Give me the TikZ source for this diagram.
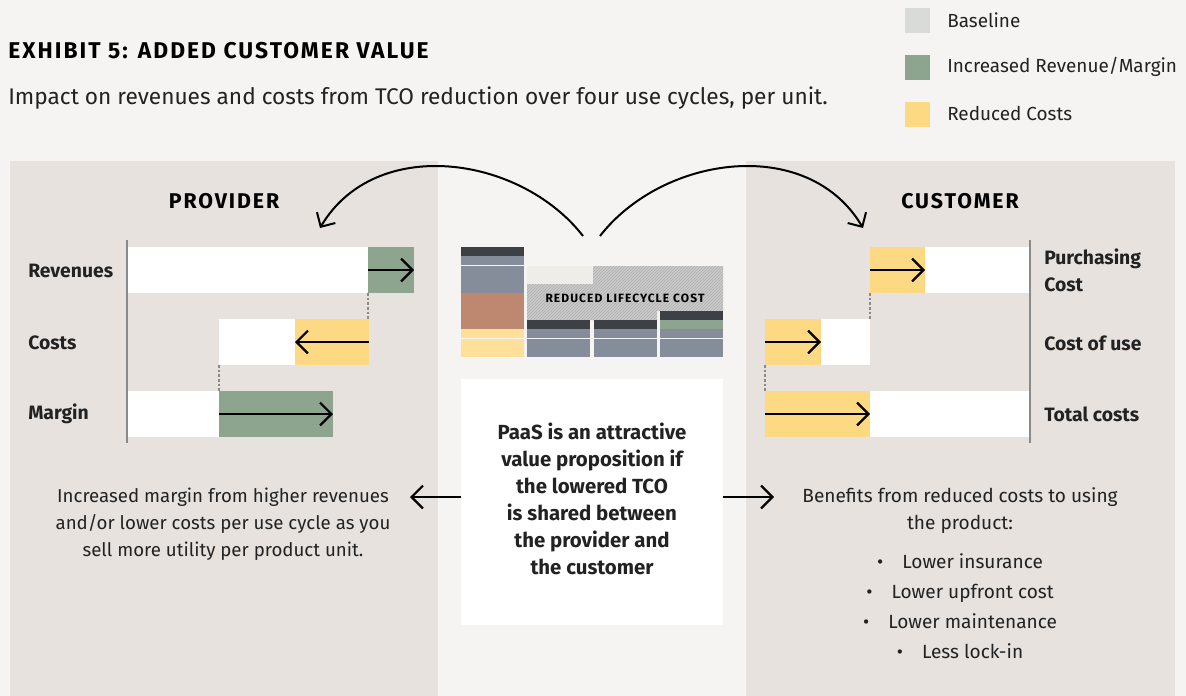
\documentclass[tikz,border=0pt]{standalone}
\usepackage{fontspec}
\setmainfont{Fira Sans}
\newfontfamily\spacedfont[LetterSpace=9]{Fira Sans}
\usetikzlibrary{arrows.meta,fit}
\definecolor{bg}{HTML}{F5F4F2}
\definecolor{panel}{HTML}{E7E2DE}
\definecolor{grn}{HTML}{8DA48E}
\definecolor{yel}{HTML}{FED984}
\definecolor{yel2}{HTML}{FFE09A}
\definecolor{basec}{HTML}{D9DBD9}
\definecolor{dark}{HTML}{3D4146}
\definecolor{slate}{HTML}{858D9B}
\definecolor{terra}{HTML}{BE876F}
\definecolor{lite}{HTML}{EFEDEA}
\definecolor{hatchbg}{HTML}{CACACA}
\definecolor{hatchln}{HTML}{B0B0B0}
\definecolor{axisc}{HTML}{8A8A8A}
\definecolor{txt}{HTML}{222222}
\newcommand\fTitle{\spacedfont\bfseries\fontsize{17.1}{20}\selectfont}
\newcommand\fHead{\spacedfont\bfseries\fontsize{16}{19}\selectfont}
\newcommand\fSub{\fontsize{17}{20}\selectfont}
\newcommand\fLeg{\fontsize{14.2}{17}\selectfont}
\newcommand\fLab{\bfseries\fontsize{14.5}{20.3}\selectfont}
\newcommand\fBox{\bfseries\fontsize{15.3}{20.25}\selectfont}
\newcommand\fDesc{\fontsize{14}{19.9}\selectfont}
\newcommand\fDescR{\fontsize{14.3}{19.9}\selectfont}
\newcommand\fList{\fontsize{14.3}{22.5}\selectfont}
\newcommand\fSmall{\spacedfont\bfseries\fontsize{9}{10}\selectfont}
\begin{document}
\begin{tikzpicture}[x=0.75pt,y=-0.75pt,
  seg/.style={inner sep=0pt,outer sep=0pt,draw=none},
  arr/.style={-{Straight Barb[length=8.5pt,width=17pt]},line width=1.7pt,black},
  curvearr/.style={-{Straight Barb[length=8pt,width=16pt]},line width=1.5pt,black},
  dashcon/.style={axisc,line width=0.9pt,dash pattern=on 2pt off 1.5pt},
  axisline/.style={axisc,line width=1.2pt},
  lab/.style={anchor=west,font=\fLab,text=txt,inner sep=0pt,align=left},
  leg/.style={anchor=west,font=\fLeg,text=txt,inner sep=0pt}]
% background
\fill[bg] (0,0) rectangle (1186,696);
\fill[panel] (10,161) rectangle (438,696);
\fill[panel] (746,161) rectangle (1175,696);
% title
\node[anchor=base west,font=\fTitle,text=black,inner sep=0pt] (title) at (8,58) {EXHIBIT 5: ADDED CUSTOMER VALUE};
\node[anchor=base west,font=\fSub,text=txt,inner sep=0pt] (sub) at (8,104) {Impact on revenues and costs from TCO reduction over four use cycles, per unit.};
% legend
\node[seg,fill=basec,fit={(905,8)(930,33)}] (lg1) {};
\node[seg,fill=grn,fit={(905,55)(930,80)}] (lg2) {};
\node[seg,fill=yel,fit={(905,102)(930,127)}] (lg3) {};
\node[leg] (lt1) at (947,20) {Baseline};
\node[leg] (lt2) at (947,67) {Increased Revenue/Margin};
\node[leg] (lt3) at (947,114) {Reduced Costs};
% panel headings
\node[font=\fHead,inner sep=0pt] (prov) at (224,201) {PROVIDER};
\node[font=\fHead,inner sep=0pt] (cust) at (960,201) {CUSTOMER};
% ---- provider bars
\draw[axisline] (127,240) -- (127,443);
\node[seg,fill=white,fit={(128,247)(368,293)}] (revW) {};
\node[seg,fill=grn,fit={(368,247)(414,293)}] (revG) {};
\node[seg,fill=white,fit={(219,319)(295,365)}] (costW) {};
\node[seg,fill=yel,fit={(295,319)(369,365)}] (costY) {};
\node[seg,fill=white,fit={(128,391)(219,437)}] (marW) {};
\node[seg,fill=grn,fit={(219,391)(333,437)}] (marG) {};
\draw[arr] (revG.west) -- (revG.east);
\draw[arr] (costY.east) -- (costY.west);
\draw[arr] (marG.west) -- (marG.east);
\draw[dashcon] (revW.south east) -- (revW.south east |- costY.north);
\draw[dashcon] (costW.south west) -- (costW.south west |- marG.north);
\node[lab] (lrev) at (28,271) {Revenues};
\node[lab] (lcost) at (28,343) {Costs};
\node[lab] (lmar) at (28,414) {Margin};
% ---- customer bars
\draw[axisline] (1030,240) -- (1030,443);
\node[seg,fill=yel,fit={(870,247)(925,293)}] (purY) {};
\node[seg,fill=white,fit={(925,247)(1029,293)}] (purW) {};
\node[seg,fill=yel,fit={(765,319)(821,365)}] (useY) {};
\node[seg,fill=white,fit={(821,319)(870,365)}] (useW) {};
\node[seg,fill=yel,fit={(765,391)(870,437)}] (totY) {};
\node[seg,fill=white,fit={(870,391)(1029,437)}] (totW) {};
\draw[arr] (purY.west) -- (purY.east);
\draw[arr] (useY.west) -- (useY.east);
\draw[arr] (totY.west) -- (totY.east);
\draw[dashcon] (purY.south west) -- (purY.south west |- useW.north);
\draw[dashcon] (useY.south west) -- (useY.south west |- totY.north);
\node[lab] (lpur) at (1044,270) {Purchasing\\Cost};
\node[lab] (luse) at (1044,343) {Cost of use};
\node[lab] (ltot) at (1044,414) {Total costs};
% ---- center stacked chart
\node[seg,fill=dark,fit={(461,247)(524,256)}] (c1a) {};
\node[seg,fill=slate,fit={(461,256)(524,265)}] (c1b) {};
\node[seg,fill=slate,fit={(461,266)(524,293)}] (c1c) {};
\node[seg,fill=terra,fit={(461,293)(524,329)}] (c1d) {};
\node[seg,fill=yel2,fit={(461,329)(524,338)}] (c1e) {};
\node[seg,fill=yel2,fit={(461,339)(524,357)}] (c1f) {};
\fill[lite] (527,266) rectangle (593,284);
\begin{scope}
  \clip (527,284) -- (593,284) -- (593,266) -- (723,266) -- (723,311) -- (657,311) -- (657,320) -- (527,320) -- cycle;
  \fill[hatchbg] (520,260) rectangle (730,325);
  \foreach \i in {466,469,...,730} \draw[hatchln,line width=0.5pt] (\i,324) -- ++(60,-60);
\end{scope}
\node[font=\fSmall,text=black,inner sep=0pt] (rlc) at (625,298) {REDUCED LIFECYCLE COST};
\node[seg,fill=dark,fit={(527,320)(590,329)}] (c2a) {};
\node[seg,fill=slate,fit={(527,329)(590,338)}] (c2b) {};
\node[seg,fill=slate,fit={(527,339)(590,357)}] (c2c) {};
\node[seg,fill=dark,fit={(594,320)(657,329)}] (c3a) {};
\node[seg,fill=slate,fit={(594,329)(657,338)}] (c3b) {};
\node[seg,fill=slate,fit={(594,339)(657,357)}] (c3c) {};
\node[seg,fill=dark,fit={(660,311)(723,320)}] (c4a) {};
\node[seg,fill=grn,fit={(660,320)(723,329)}] (c4b) {};
\node[seg,fill=slate,fit={(660,329)(723,338)}] (c4c) {};
\node[seg,fill=slate,fit={(660,339)(723,357)}] (c4d) {};
% curved arrows
\coordinate (ls) at (583,236);
\coordinate (le) at (320,228);
\coordinate (rs) at (600,236);
\coordinate (re) at (863,228);
\draw[curvearr] (ls) .. controls (520,155) and (375,135) .. (le);
\draw[curvearr] (rs) .. controls (663,155) and (808,135) .. (re);
% center box
\node[seg,fill=white,fit={(461,379)(723,625)}] (paas) {};
\node[font=\fBox,text=txt,align=center,inner sep=0pt] (paast) at (592,499) {PaaS is an attractive\\value proposition if\\the lowered TCO\\is shared between\\the provider and\\the customer};
\coordinate (la) at (410,497);
\coordinate (ra) at (774,497);
\draw[arr] (paas.west |- la) -- (la);
\draw[arr] (paas.east |- ra) -- (ra);
% descriptions
\node[font=\fDesc,text=txt,align=center,inner sep=0pt,anchor=base] (ldesc) at (223,556) {Increased margin from higher revenues\\and/or lower costs per use cycle as you\\sell more utility per product unit.};
\node[font=\fDescR,text=txt,align=center,inner sep=0pt,anchor=base] (rdesc) at (960,529) {Benefits from reduced costs to using\\the product:};
\node[font=\fList,text=txt,align=center,inner sep=0pt,anchor=base] (rlist) at (960,658) {\textbullet\quad Lower insurance\\\textbullet\quad Lower upfront cost\\\textbullet\quad Lower maintenance\\\textbullet\quad Less lock-in};
\end{tikzpicture}
\end{document}
